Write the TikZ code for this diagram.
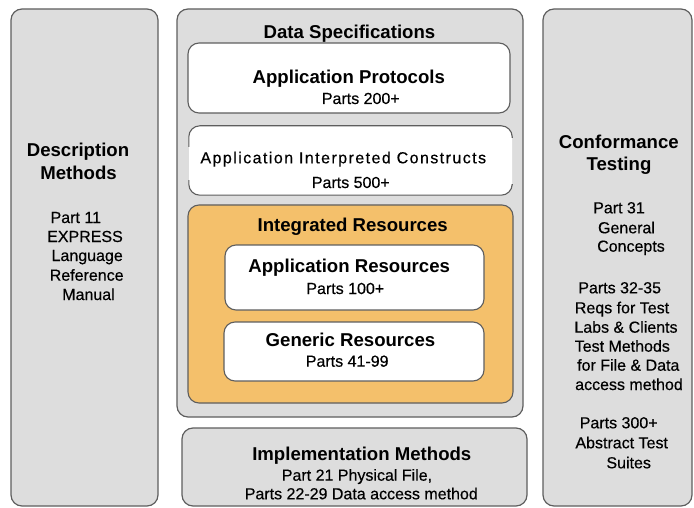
\documentclass[tikz,border=0pt]{standalone}
\usepackage{fontspec}
\setmainfont{Liberation Sans}
\definecolor{boxgray}{HTML}{DDDDDD}
\definecolor{edgegray}{HTML}{5E5E5E}
\definecolor{irorange}{HTML}{F4C06B}
\definecolor{txt}{HTML}{000000}
\tikzset{
  panel/.style={rectangle, rounded corners=11pt, draw=edgegray, line width=1.2pt, fill=boxgray, inner sep=0pt},
  whitebox/.style={rectangle, rounded corners=11pt, draw=edgegray, line width=1.1pt, fill=white, inner sep=0pt},
  orangebox/.style={rectangle, rounded corners=11pt, draw=edgegray, line width=1.1pt, fill=irorange, inner sep=0pt},
  ttl/.style={anchor=base, inner sep=0pt, text=txt, font=\fontsize{18.6}{22}\selectfont\bfseries},
  sml/.style={anchor=base, inner sep=0pt, text=txt, font=\fontsize{16}{19.5}\selectfont\addfontfeatures{FakeBold=0.4}},
}
\begin{document}
\begin{tikzpicture}[x=1pt,y=-1pt]
\useasboundingbox (0,0) rectangle (694,508);
% boxes
\node[panel, minimum width=147, minimum height=497] (desc) at (84.5,257.5) {};
\node[panel, minimum width=346, minimum height=408] (ds) at (350,213) {};
\node[whitebox, minimum width=322, minimum height=70] (ap) at (349,78) {};
\node[rectangle, rounded corners=11pt, fill=white, inner sep=0pt, minimum width=323, minimum height=69] (aic) at (350.5,160.5) {};
\draw[edgegray, line width=1.1pt, rounded corners=11pt] ([yshift=-21pt]aic.north west) |- (aic.north) -| ([yshift=-12pt]aic.north east);
\draw[edgegray, line width=1.1pt, rounded corners=11pt] ([yshift=15pt]aic.south west) |- (aic.south) -| ([yshift=10pt]aic.south east);
\node[orangebox, minimum width=325, minimum height=198] (ir) at (350.5,304) {};
\node[whitebox, minimum width=259, minimum height=65] (ar) at (354.5,277.5) {};
\node[whitebox, minimum width=260, minimum height=59] (gr) at (354,351.5) {};
\node[panel, minimum width=345, minimum height=78] (im) at (354.5,467) {};
\node[panel, minimum width=149, minimum height=497] (ct) at (617.5,257.5) {};
% left texts
\node[ttl] (d1) at (78,156.7) {Description};
\node[ttl] (d2) at (78.5,179) {Methods};
\node[sml] (d3) at (75.8,223) {Part 11};
\node[sml] (d4) at (85,242) {EXPRESS};
\node[sml] (d5) at (87.2,261) {Language};
\node[sml] (d6) at (86.7,280.7) {Reference};
\node[sml] (d7) at (88.5,300) {Manual};
% center texts
\node[ttl] (s1) at (349.5,38.3) {Data Specifications};
\node[ttl] (s2) at (348.8,83.3) {Application Protocols};
\node[sml] (s3) at (360.8,104) {Parts 200+};
\node[sml, font=\fontsize{16}{19.5}\selectfont\addfontfeatures{LetterSpace=9,FakeBold=0.4}] (s4) at (343.3,163.3) {Application Interpreted Constructs};
\node[sml] (s5) at (350.8,188) {Parts 500+};
\node[ttl] (s6) at (352.7,231.7) {Integrated Resources};
\node[ttl] (s7) at (349.2,272.7) {Application Resources};
\node[sml] (s8) at (345.3,294) {Parts 100+};
\node[ttl] (s9) at (350.5,346.7) {Generic Resources};
\node[sml] (s10) at (347.2,366.7) {Parts 41-99};
\node[ttl] (m1) at (361.8,460) {Implementation Methods};
\node[sml] (m2) at (357,480.7) {Part 21 Physical File,};
\node[sml] (m3) at (361.3,499.3) {Parts 22-29 Data access method};
% right texts
\node[ttl] (c1) at (618.8,148.3) {Conformance};
\node[ttl] (c2) at (619,170.7) {Testing};
\node[sml] (c3) at (619,213.3) {Part 31};
\node[sml] (c4) at (626.5,233.3) {General};
\node[sml] (c5) at (631,251.7) {Concepts};
\node[sml] (c6) at (619.7,293.3) {Parts 32-35};
\node[sml] (c7) at (622,313.3) {Reqs for Test};
\node[sml] (c8) at (626,332.7) {Labs \& Clients};
\node[sml] (c9) at (622.3,351.7) {Test Methods};
\node[sml] (c10) at (628.3,370.7) {for File \& Data};
\node[sml] (c11) at (629,390) {access method};
\node[sml] (c12) at (618.7,428.3) {Parts 300+};
\node[sml] (c13) at (621.7,448.3) {Abstract Test};
\node[sml] (c14) at (628.7,468.3) {Suites};
\end{tikzpicture}
\end{document}
